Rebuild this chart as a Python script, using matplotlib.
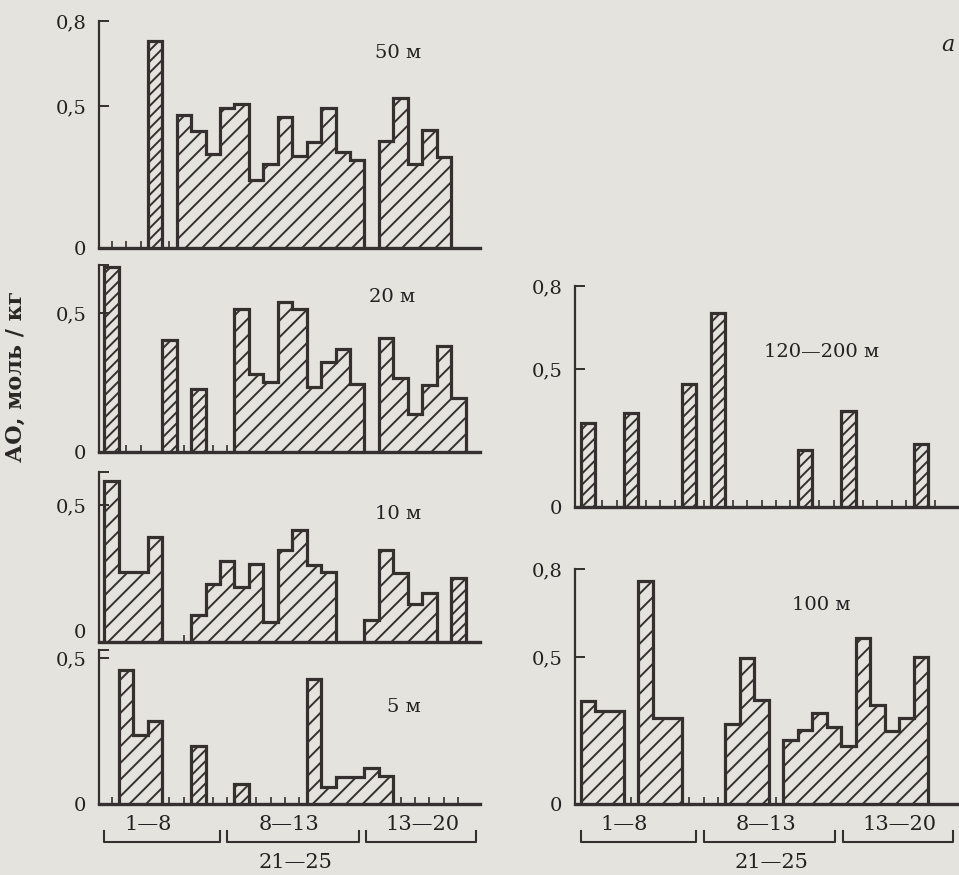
import numpy as np
import matplotlib.pyplot as plt

plt.rcParams['font.family'] = ['DejaVu Serif']
plt.rcParams['hatch.linewidth'] = 1.4

# АО по станциям (26 позиций); 0 - ниже предела, None - проба не отбиралась
ao_50 = [0, 0, 0, 0.73, 0,
         0.468, 0.412, 0.333, 0.492, 0.506, 0.239, 0.296, 0.462, 0.325, 0.374, 0.494, 0.339, 0.310,
         None, 0.378, 0.527, 0.295, 0.415, 0.319, None, None]
ao_20 = [0.667, 0, 0, None, 0.403, 0, 0.225, 0, 0,
         0.513, 0.281, 0.251, 0.541, 0.514, 0.235, 0.325, 0.370, 0.243,
         None, 0.411, 0.265, 0.136, 0.241, 0.382, 0.195, None]
ao_10 = [0.589, 0.254, 0.254, 0.382, None, 0,
         0.098, 0.213, 0.294, 0.201, 0.284, 0.073, 0.335, 0.408, 0.280, 0.256,
         None, None, 0.080, 0.335, 0.253, 0.140, 0.177, None, 0.235, None]
ao_5 = [0, 0.457, 0.236, 0.285, 0, 0, 0.199, 0, 0, 0.067, 0, 0, 0, 0,
        0.427, 0.059, 0.094, 0.094, 0.122, 0.096, 0, 0, 0, 0, 0, None]
ao_120 = [0.304, 0, 0, 0.340, 0, 0, 0, 0.446, 0, 0.701, 0, 0, 0, 0, 0,
          0.205, 0, 0, 0.346, 0, 0, 0, 0, 0.229, 0, None]
ao_100 = [0.349, 0.315, 0.315, 0, 0.758, 0.294, 0.294, 0, 0, 0,
          0.273, 0.497, 0.355, 0, 0.218, 0.252, 0.309, 0.261, 0.199,
          0.564, 0.337, 0.247, 0.294, 0.501, None, None]

depths = ['50 м', '20 м', '10 м', '5 м', '120—200 м', '100 м']
groups = ['1—8', '8—13', '13—20']
group_sub = '21—25'

bg = '#e4e3de'
ink = '#35302f'
W, H = 959, 875


def rect(x0, y_top, x1, y_bot):
    return [x0 / W, 1 - y_bot / H, (x1 - x0) / W, (y_bot - y_top) / H]


def draw_panel(ax, values, top, ticks, ticklabels):
    vals = np.array([np.nan if v is None else v for v in values], float)
    k = 0
    while k < len(vals):
        if vals[k] > 0:
            j = k
            while j < len(vals) and vals[j] > 0:
                j += 1
            # узкие столбики заштрихованы гуще
            hatch = '///' if j - k == 1 else '//'
            ax.stairs(vals[k:j], np.arange(k, j + 1), baseline=0, fill=True,
                      hatch=hatch, facecolor='none', edgecolor=ink,
                      linewidth=2.3, joinstyle='miter', clip_on=False)
            k = j
        else:
            k += 1
    zero = np.where(vals == 0)[0] + 0.5
    ax.set_xticks(zero)
    ax.tick_params(axis='x', direction='in', length=5, width=1.2, color=ink,
                   labelbottom=False)
    ax.set_xlim(-0.38, 26.0)
    ax.set_ylim(0, top)
    ax.set_yticks(ticks)
    ax.set_yticklabels(ticklabels)
    ax.tick_params(axis='y', direction='in', length=7, width=1.4, color=ink,
                   pad=9, labelsize=14, labelcolor='#222')
    for s in ['top', 'right']:
        ax.spines[s].set_visible(False)
    ax.spines['left'].set_linewidth(1.6)
    ax.spines['left'].set_color(ink)
    ax.spines['bottom'].set_linewidth(2.4)
    ax.spines['bottom'].set_color(ink)
    ax.patch.set_alpha(0)


def draw_groups(ax):
    h = ax.bbox.height
    tr = ax.get_xaxis_transform()
    for lab, x in zip(groups, [3.0, 12.8, 22.0]):
        ax.text(x, -20 / h, lab, transform=tr, ha='center', va='center',
                fontsize=15, color='#222')
    for x0, x1 in [(0.0, 8.0), (8.5, 17.6), (18.1, 25.7)]:
        ax.plot([x0, x0, x1, x1], [-27 / h, -38 / h, -38 / h, -27 / h],
                transform=tr, color=ink, lw=1.5, clip_on=False)
    ax.text(13.2, -58 / h, group_sub, transform=tr, ha='center', va='center',
            fontsize=15, color='#222')


fig = plt.figure(figsize=(W / 100, H / 100), dpi=100, facecolor=bg)

ax50 = fig.add_axes(rect(99, 21, 480, 248))
draw_panel(ax50, ao_50, 0.8, [0, 0.5, 0.8], ['0', '0,5', '0,8'])
ax20 = fig.add_axes(rect(99, 265, 480, 452))
draw_panel(ax20, ao_20, 0.673, [0, 0.5, 0.673], ['0', '0,5', ''])
ax10 = fig.add_axes(rect(99, 472, 480, 642))
draw_panel(ax10, ao_10, 0.62, [0, 0.5, 0.62], ['0', '0,5', ''])
ax10.get_yticklabels()[0].set_verticalalignment('bottom')
ax5 = fig.add_axes(rect(99, 650, 480, 804))
draw_panel(ax5, ao_5, 0.527, [0, 0.5, 0.527], ['0', '0,5', ''])
ax120 = fig.add_axes(rect(575, 286, 957, 507))
draw_panel(ax120, ao_120, 0.8, [0, 0.5, 0.8], ['0', '0,5', '0,8'])
ax100 = fig.add_axes(rect(575, 569, 957, 804))
draw_panel(ax100, ao_100, 0.8, [0, 0.5, 0.8], ['0', '0,5', '0,8'])

draw_groups(ax5)
draw_groups(ax100)

# подписи глубин
for lab, (x, y) in zip(depths, [(398, 53), (392, 297), (398, 514), (404, 707),
                                 (822, 352), (821, 605)]):
    fig.text(x / W, 1 - y / H, lab, ha='center', va='center', fontsize=14,
             color='#222')

fig.text(16 / W, 1 - 376 / H, 'АО, моль / кг', rotation=90, ha='center',
         va='center', fontsize=16, fontweight='bold', color='#2a2626')
fig.text(948 / W, 1 - 45 / H, 'а', style='italic', ha='center', va='center',
         fontsize=16, color='#222')

fig.savefig('out.png', dpi=100, facecolor=bg)
